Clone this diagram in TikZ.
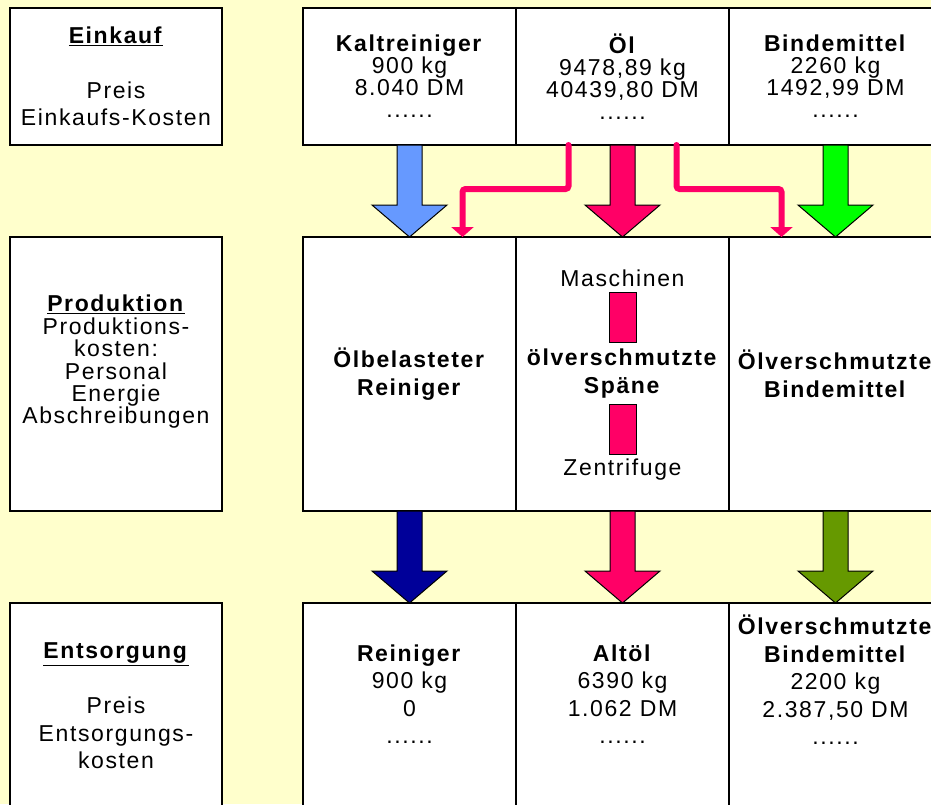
\documentclass[tikz,border=0pt]{standalone}
\usepackage{fontspec}
\setmainfont{Liberation Sans}[LetterSpace=7]
\usetikzlibrary{positioning,calc,arrows.meta}

\definecolor{paper}{HTML}{FFFFCC}
\definecolor{kaltblue}{HTML}{6699FF}
\definecolor{oelred}{HTML}{FF0066}
\definecolor{bindgreen}{HTML}{00FF00}
\definecolor{reinblue}{HTML}{000099}
\definecolor{bindolive}{HTML}{669900}

\tikzset{
  box/.style={draw, fill=white, line width=1.3pt, inner sep=0pt, outer sep=0pt, align=center},
  colbox/.style={box, minimum width=213pt},
  sidebox/.style={box, minimum width=212pt},
  tightfont/.style={font=\fontsize{23}{22}\selectfont},
  widefont/.style={font=\fontsize{23}{27.5}\selectfont},
  prodfont/.style={font=\fontsize{23}{22.4}\selectfont},
  machine/.style={draw, fill=oelred, line width=0.8pt, minimum width=27pt, minimum height=50pt, inner sep=0pt},
  oelline/.style={draw=oelred, line width=6pt, line cap=round, rounded corners=3pt, -{Triangle[width=22pt,length=10pt]}},
}

% block arrow from one box down to the next
\newcommand\flowarrow[3]{%
  \filldraw[fill=#3, draw=black, line width=1pt]
    ($(#1.south)+(-12.5,0)$) -- ($(#2.north)+(-12.5,-32)$) -- ($(#2.north)+(-37.5,-32)$)
    -- (#2.north) -- ($(#2.north)+(37.5,-32)$) -- ($(#2.north)+(12.5,-32)$)
    -- ($(#1.south)+(12.5,0)$) -- cycle;}

\begin{document}
\begin{tikzpicture}[x=1pt, y=-1pt]
  \useasboundingbox (0,0) rectangle (931,804);
  \clip (0,0) rectangle (931,804);
  \fill[paper] (0,0) rectangle (931,804);

  % left column
  \node[sidebox, widefont, minimum height=137pt, anchor=north west] (einkauf) at (10,8)
    {\underline{\textbf{Einkauf}}\\[27.5pt]Preis\\Einkaufs-Kosten};
  \node[sidebox, minimum height=274pt, below=92pt of einkauf] (produktion) {};
  \node[sidebox, minimum height=210pt, below=92pt of produktion] (entsorgung) {};
  \node[prodfont, align=center] (prodtext) at (116,362)
    {\underline{\textbf{Produktion}}\\Produktions-\\kosten:\\Personal\\Energie\\Abschreibungen};
  \node[widefont, align=center] (entstext) at (116,706)
    {\underline{\textbf{Entsorgung}}\\[27.5pt]Preis\\Entsorgungs-\\kosten};

  % Einkauf
  \node[colbox, tightfont, minimum height=137pt, anchor=north west] (kalt) at (303,8)
    {\textbf{Kaltreiniger}\\900 kg\\8.040 DM\\......};
  \node[colbox, tightfont, minimum height=137pt, right=0pt of kalt] (oel)
    {\textbf{Öl}\\9478,89 kg\\40439,80 DM\\......};
  \node[colbox, tightfont, minimum height=137pt, right=0pt of oel] (binde)
    {\textbf{Bindemittel}\\2260 kg\\1492,99 DM\\......};

  % Produktion
  \node[colbox, widefont, minimum height=274pt, below=92pt of kalt] (belast)
    {\textbf{Ölbelasteter}\\\textbf{Reiniger}};
  \node[colbox, minimum height=274pt, right=0pt of belast] (spaene) {};
  \node[colbox, widefont, minimum height=274pt, right=0pt of spaene] (bindeschmutz)
    {\textbf{Ölverschmutzte}\\\textbf{Bindemittel}};
  \node[tightfont] (maschinen) at (622.5,278) {Maschinen};
  \node[machine] (masch1) at (622.5,317) {};
  \node[widefont, align=center] (spaenetext) at (622.5,373.5)
    {\textbf{ölverschmutzte}\\\textbf{Späne}};
  \node[machine] (masch2) at (622.5,429.5) {};
  \node[tightfont] (zentrifuge) at (622.5,470) {Zentrifuge};

  % Entsorgung
  \node[colbox, minimum height=210pt, below=92pt of belast] (reiniger) {};
  \node[colbox, minimum height=210pt, right=0pt of reiniger] (altoel) {};
  \node[colbox, minimum height=210pt, right=0pt of altoel] (bindeab) {};
  \node[widefont, align=center] (reinigertext) at (409.5,694)
    {\textbf{Reiniger}\\900 kg\\0\\......};
  \node[widefont, align=center] (altoeltext) at (622.5,694)
    {\textbf{Altöl}\\6390 kg\\1.062 DM\\......};
  \node[widefont, align=center] (bindeabtext) at (835.5,680)
    {\textbf{Ölverschmutzte}\\\textbf{Bindemittel}\\2200 kg\\2.387,50 DM\\......};

  % flows
  \flowarrow{kalt}{belast}{kaltblue}
  \flowarrow{oel}{spaene}{oelred}
  \flowarrow{binde}{bindeschmutz}{bindgreen}
  \flowarrow{belast}{reiniger}{reinblue}
  \flowarrow{spaene}{altoel}{oelred}
  \flowarrow{bindeschmutz}{bindeab}{bindolive}
  \draw[oelline] ($(oel.south)+(-54,0)$) -- ++(0,44) -| ($(belast.north)+(53,0)$);
  \draw[oelline] ($(oel.south)+(54,0)$) -- ++(0,44) -| ($(bindeschmutz.north)+(-54,0)$);
\end{tikzpicture}
\end{document}
